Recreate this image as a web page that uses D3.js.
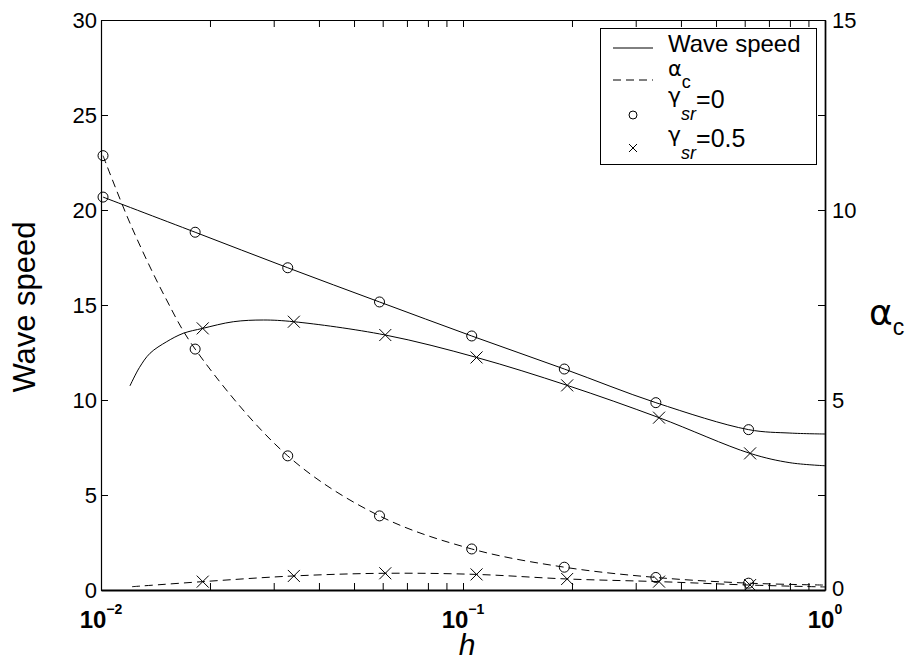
<!DOCTYPE html>
<html>
<head>
<meta charset="utf-8">
<script src="https://cdn.jsdelivr.net/npm/d3@7"></script>
<style>
  html, body { margin: 0; padding: 0; background: #fff; }
  svg { display: block; font-family: "Liberation Sans", Arial, Helvetica, sans-serif; }
</style>
</head>
<body>
<svg id="chart" width="909" height="660"></svg>
<script>
// ---------- data ----------
// marker samples, gamma_sr = 0 (circles)
const hCircle     = [0.01013, 0.0182, 0.0328, 0.0588, 0.1057, 0.1905, 0.341, 0.615];
const speedCircle = [20.68, 18.83, 16.96, 15.16, 13.37, 11.63, 9.86, 8.44];
const alphaCircle = [11.43, 6.34, 3.53, 1.95, 1.08, 0.60, 0.33, 0.18];
// marker samples, gamma_sr = 0.5 (crosses)
const hCross      = [0.0191, 0.0341, 0.0610, 0.109, 0.194, 0.348, 0.621];
const speedCross  = [13.77, 14.12, 13.42, 12.24, 10.77, 9.07, 7.19];
const alphaCross  = [0.22, 0.37, 0.44, 0.41, 0.29, 0.22, 0.13];
// continuous curves
const hSpeedCircleCurve = [0.01013, 0.0182, 0.0328, 0.0588, 0.1057, 0.1905, 0.341, 0.615, 0.80, 1.0];
const vSpeedCircleCurve = [20.68, 18.83, 16.96, 15.16, 13.37, 11.63, 9.86, 8.44, 8.26, 8.21];
const hSpeedCrossCurve  = [0.01202, 0.01276, 0.01366, 0.01519, 0.01688, 0.0191, 0.0232, 0.0281, 0.0341, 0.0610, 0.109, 0.194, 0.348, 0.621, 0.80, 1.0];
const vSpeedCrossCurve  = [10.74, 11.70, 12.46, 13.07, 13.51, 13.77, 14.12, 14.21, 14.12, 13.42, 12.24, 10.77, 9.07, 7.19, 6.70, 6.54];
const hAlphaCircleCurve = [0.01013, 0.01208, 0.01503, 0.0182, 0.0328, 0.0588, 0.1057, 0.1905, 0.341, 0.615, 1.0];
const vAlphaCircleCurve = [11.43, 9.61, 7.71, 6.34, 3.53, 1.95, 1.08, 0.60, 0.33, 0.18, 0.13];
const hAlphaCrossCurve  = [0.01218, 0.0191, 0.0341, 0.0610, 0.109, 0.194, 0.348, 0.621, 1.0];
const vAlphaCrossCurve  = [0.087, 0.22, 0.37, 0.44, 0.41, 0.29, 0.22, 0.13, 0.08];
// axes
const xDomain = [0.01, 1];
const leftDomain = [0, 30];
const rightDomain = [0, 15];
const leftTicks = [0, 5, 10, 15, 20, 25, 30];
const rightTicks = [0, 5, 10, 15];
const xMajor = [0.01, 0.1, 1];
const xMajorExp = ["\u22122", "\u22121", "0"];
const xMinor = [0.02,0.03,0.04,0.05,0.06,0.07,0.08,0.09,0.2,0.3,0.4,0.5,0.6,0.7,0.8,0.9];

// ---------- layout ----------
const L = 101, R = 825, T = 20, B = 590;
const svg = d3.select("#chart");
const x = d3.scaleLog().domain(xDomain).range([L, R]);
const yL = d3.scaleLinear().domain(leftDomain).range([B, T]);
const yR = d3.scaleLinear().domain(rightDomain).range([B, T]);

const zip = (a, b) => a.map((v, i) => [v, b[i]]);
const lineL = d3.line().x(d => x(d[0])).y(d => yL(d[1])).curve(d3.curveCatmullRom.alpha(0.5));
const lineR = d3.line().x(d => x(d[0])).y(d => yR(d[1])).curve(d3.curveCatmullRom.alpha(0.5));
const GREEK = "DejaVu Sans, sans-serif";

// ---------- axes ----------
const allX = xMajor.concat(xMinor);
const gB = svg.append("g").attr("transform", `translate(0,${B})`)
  .call(d3.axisBottom(x).tickValues(allX).tickSize(-7).tickSizeOuter(0).tickFormat(() => ""));
const gT = svg.append("g").attr("transform", `translate(0,${T})`)
  .call(d3.axisTop(x).tickValues(allX).tickSize(-7).tickSizeOuter(0).tickFormat(() => ""));
const gL = svg.append("g").attr("transform", `translate(${L},0)`)
  .call(d3.axisLeft(yL).tickValues(leftTicks).tickSize(-7).tickSizeOuter(0).tickPadding(4));
const gR1 = svg.append("g").attr("transform", `translate(${R},0)`)
  .call(d3.axisLeft(yL).tickValues(leftTicks).tickSize(7).tickSizeOuter(0).tickFormat(() => ""));
const gR2 = svg.append("g").attr("transform", `translate(${R},0)`)
  .call(d3.axisRight(yR).tickValues(rightTicks).tickSize(0).tickSizeOuter(0).tickPadding(7));

[gB, gT, gL, gR1, gR2].forEach(g => {
  g.selectAll("path.domain").attr("stroke", "#000").attr("stroke-width", 1.2);
  g.selectAll(".tick line").attr("stroke", "#000").attr("stroke-width", 1);
});
gB.select("path.domain").attr("stroke-width", 2);
gR2.select("path.domain").attr("stroke-width", 1.6);
[gL, gR2].forEach(g => g.selectAll(".tick text")
  .attr("font-size", 22).attr("fill", "#000").attr("font-family", "Liberation Sans, Arial, sans-serif"));
gR2.selectAll(".tick text").filter(d => d === 0).attr("dy", "0.25em");

// x major labels 10^n
xMajor.forEach((v, i) => {
  const t = svg.append("text").attr("x", x(v)).attr("y", 628)
    .attr("text-anchor", "middle").attr("font-weight", "bold").attr("font-size", 24);
  t.append("tspan").text("10");
  t.append("tspan").attr("dy", -14).attr("font-size", 14).text(xMajorExp[i]);
});

// ---------- curves ----------
const curveStyle = (p, dashed) => p.attr("fill", "none").attr("stroke", "#000").attr("stroke-width", 1)
  .attr("stroke-dasharray", dashed ? "8,5" : null);
curveStyle(svg.append("path").attr("d", lineL(zip(hSpeedCircleCurve, vSpeedCircleCurve))), false);
curveStyle(svg.append("path").attr("d", lineL(zip(hSpeedCrossCurve, vSpeedCrossCurve))), false);
curveStyle(svg.append("path").attr("d", lineR(zip(hAlphaCircleCurve, vAlphaCircleCurve))), true);
curveStyle(svg.append("path").attr("d", lineR(zip(hAlphaCrossCurve, vAlphaCrossCurve))), true);

// ---------- markers ----------
const circles = zip(hCircle, speedCircle).map(d => [x(d[0]), yL(d[1])])
  .concat(zip(hCircle, alphaCircle).map(d => [x(d[0]), yR(d[1])]));
svg.append("g").selectAll("circle").data(circles).join("circle")
  .attr("cx", d => d[0]).attr("cy", d => d[1]).attr("r", 5)
  .attr("fill", "none").attr("stroke", "#000").attr("stroke-width", 1);
const crosses = zip(hCross, speedCross).map(d => [x(d[0]), yL(d[1])])
  .concat(zip(hCross, alphaCross).map(d => [x(d[0]), yR(d[1])]));
const s = 6;
svg.append("g").selectAll("path").data(crosses).join("path")
  .attr("d", d => `M${d[0]-s},${d[1]-s}L${d[0]+s},${d[1]+s}M${d[0]-s},${d[1]+s}L${d[0]+s},${d[1]-s}`)
  .attr("stroke", "#000").attr("stroke-width", 1).attr("fill", "none");

// ---------- axis titles ----------
svg.append("text").attr("transform", "translate(35,307) rotate(-90)")
  .attr("text-anchor", "middle").attr("font-size", 31).text("Wave speed");
svg.append("text").attr("x", 467).attr("y", 655).attr("text-anchor", "middle")
  .attr("font-size", 30).attr("font-style", "italic").text("h");
const ra = svg.append("text").attr("x", 869).attr("y", 325).attr("font-size", 36);
ra.append("tspan").attr("font-family", GREEK).text("\u03b1");
ra.append("tspan").attr("dy", 10).attr("font-size", 23).text("c");

// ---------- legend ----------
const lg = svg.append("g");
lg.append("rect").attr("x", 600.5).attr("y", 28.5).attr("width", 216).attr("height", 136)
  .attr("fill", "#fff").attr("stroke", "#000").attr("stroke-width", 1);
lg.append("line").attr("x1", 613).attr("x2", 653).attr("y1", 48).attr("y2", 48)
  .attr("stroke", "#000").attr("stroke-width", 1);
lg.append("line").attr("x1", 613).attr("x2", 653).attr("y1", 80).attr("y2", 80)
  .attr("stroke", "#000").attr("stroke-width", 1).attr("stroke-dasharray", "8,5");
lg.append("circle").attr("cx", 633).attr("cy", 115).attr("r", 4)
  .attr("fill", "none").attr("stroke", "#000").attr("stroke-width", 1);
lg.append("path").attr("d", `M629,144L637,152M629,152L637,144`).attr("stroke", "#000").attr("stroke-width", 1);
lg.append("text").attr("x", 668).attr("y", 52).attr("font-size", 24).text("Wave speed");
const la = lg.append("text").attr("x", 668).attr("y", 76).attr("font-size", 21);
la.append("tspan").attr("font-family", GREEK).text("\u03b1");
la.append("tspan").attr("dy", 12).attr("font-size", 18).text("c");
[["=0", 108], ["=0.5", 147]].forEach(([lab, yb]) => {
  const t = lg.append("text").attr("x", 668).attr("y", yb - 5).attr("font-size", 25);
  t.append("tspan").attr("font-family", GREEK).attr("font-size", 22).text("\u03b3");
  t.append("tspan").attr("dy", 17).attr("font-size", 18).attr("font-style", "italic").text("sr");
  t.append("tspan").attr("dy", -12).text(lab);
});
</script>
</body>
</html>
